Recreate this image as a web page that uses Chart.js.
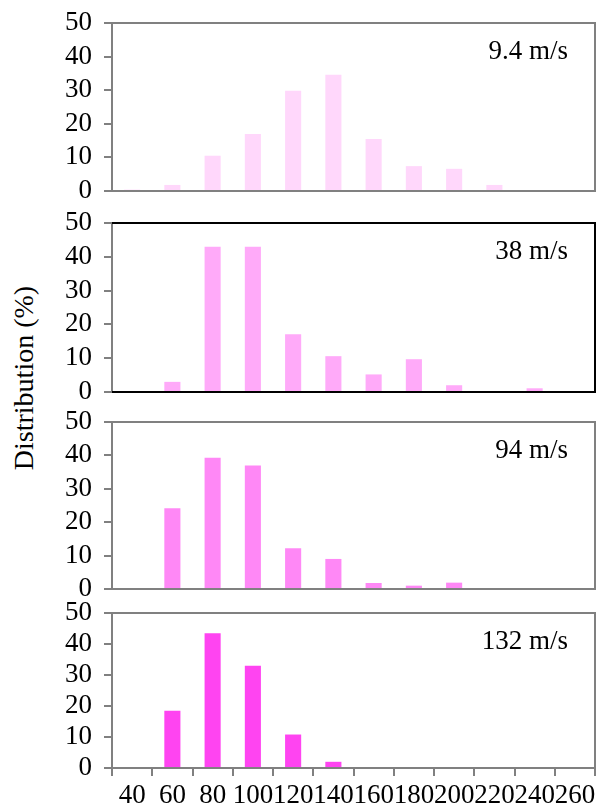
<!DOCTYPE html>
<html>
<head>
<meta charset="utf-8">
<script src="https://cdn.jsdelivr.net/npm/chart.js@4.4.1/dist/chart.umd.min.js"></script>
<style>
  body { margin: 0; background: #fff; font-family: "Liberation Serif", serif; }
  #wrap { position: relative; width: 599px; height: 808px; overflow: hidden; }
  canvas { position: absolute; left: 0; }
  #ytitle {
    position: absolute; left: 24px; top: 378px;
    transform: translate(-50%, -50%) rotate(-90deg);
    font-size: 28px; white-space: nowrap; color: #000;
  }
</style>
</head>
<body>
<div id="wrap">
  <div id="ytitle">Distribution (%)</div>
  <canvas id="p1" width="599" height="205" style="top:0px"></canvas>
  <canvas id="p2" width="599" height="200" style="top:205px"></canvas>
  <canvas id="p3" width="599" height="195" style="top:405px"></canvas>
  <canvas id="p4" width="599" height="208" style="top:600px"></canvas>
</div>
<script>
// size bins on the x axis
var sizes = ['40', '60', '80', '100', '120', '140', '160', '180', '200', '220', '240', '260'];
var speeds = ['9.4 m/s', '38 m/s', '94 m/s', '132 m/s'];

// distribution (%) for each impact speed
var dist9_4 = [0.4, 1.8, 10.5, 17, 29.8, 34.6, 15.5, 7.4, 6.6, 1.8, 0.3, 0.3];
var dist38  = [0, 3.0, 43, 43, 17.1, 10.6, 5.2, 9.7, 2.0, 0, 1.1, 0];
var dist94  = [0, 24.2, 39.3, 37.0, 12.2, 9.0, 1.8, 1.0, 1.9, 0, 0, 0];
var dist132 = [0, 18.5, 43.5, 33.0, 10.8, 2.0, 0, 0, 0, 0, 0, 0];

var barColors = ['#ffd7fb', '#ffaaf9', '#ff88f6', '#ff44f1'];
var frameColors = ['#808080', '#000000', '#808080', '#808080'];

var tickFont = { family: 'Liberation Serif', size: 27 };

// draws the box around the plot and the speed label
var framePlugin = {
  id: 'frame',
  afterDraw: function (chart) {
    var a = chart.chartArea, c = chart.ctx, o = chart.options.plugins.frame;
    c.save();
    c.strokeStyle = o.color;
    c.lineWidth = 2;
    c.beginPath();
    c.moveTo(a.left, a.top);
    c.lineTo(a.right, a.top);
    c.lineTo(a.right, a.bottom);
    c.lineTo(a.left, a.bottom);
    c.stroke();
    c.fillStyle = '#000';
    c.font = '27px "Liberation Serif"';
    c.textAlign = 'right';
    c.textBaseline = 'alphabetic';
    c.fillText(o.label, a.right - 27, a.top + 36);
    c.restore();
  }
};

function makePanel(id, values, i, padTop, padBottom, showX) {
  var ctx = document.getElementById(id).getContext('2d');
  return new Chart(ctx, {
    type: 'bar',
    data: {
      labels: sizes,
      datasets: [{
        data: values,
        backgroundColor: barColors[i],
        barPercentage: 0.4,
        categoryPercentage: 1
      }]
    },
    options: {
      responsive: false,
      animation: false,
      layout: { padding: { top: padTop, bottom: padBottom, left: 0, right: 4 } },
      plugins: {
        legend: { display: false },
        tooltip: { enabled: false },
        frame: { color: frameColors[i], label: speeds[i] }
      },
      scales: {
        x: {
          offset: true,
          grid: { display: showX, offset: true, drawOnChartArea: false, drawTicks: showX, tickLength: 8, color: '#808080', lineWidth: 2 },
          border: { color: frameColors[i], width: 2 },
          ticks: { display: showX, autoSkip: false, maxRotation: 0, minRotation: 0, padding: 4, color: '#000', font: tickFont },
          afterFit: function (s) {
            s.height = showX ? 40 : 0;
            s.paddingLeft = 0; s.paddingRight = 0;
          }
        },
        y: {
          min: 0,
          max: 50,
          ticks: { stepSize: 10, autoSkip: false, padding: 12, color: '#000', font: tickFont },
          grid: { drawOnChartArea: false, tickLength: 8, color: '#808080', lineWidth: 2 },
          border: { color: '#808080', width: 2 },
          afterFit: function (s) {
            s.width = 112;
            s.paddingTop = 0; s.paddingBottom = 0;
          }
        }
      }
    },
    plugins: [framePlugin]
  });
}

makePanel('p1', dist9_4, 0, 23, 14, false);
makePanel('p2', dist38, 1, 18, 13, false);
makePanel('p3', dist94, 2, 17, 11, false);
makePanel('p4', dist132, 3, 13, 0, true);
</script>
</body>
</html>
